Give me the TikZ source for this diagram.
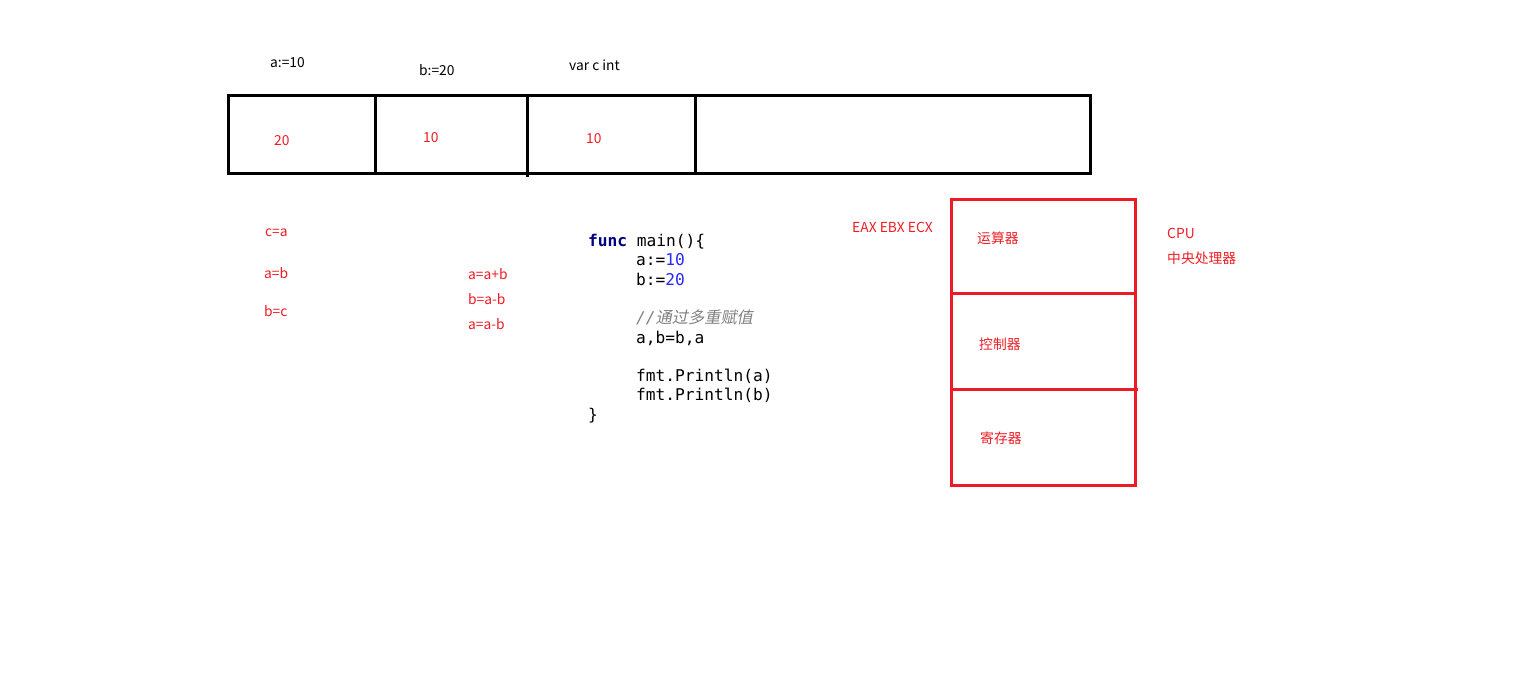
\documentclass[tikz,border=0pt]{standalone}
\usepackage{fontspec}
\setmainfont{Noto Sans CJK SC}
\setmonofont{DejaVu Sans Mono}
\newfontfamily\cjkslant[FakeSlant=0.2]{Noto Sans CJK SC}
\usetikzlibrary{positioning}
\definecolor{memred}{RGB}{237,28,36}
\definecolor{kwblue}{RGB}{0,0,128}
\definecolor{numblue}{RGB}{40,40,255}
\definecolor{cmtgray}{RGB}{128,128,128}
\begin{document}
\begin{tikzpicture}[x=1pt,y=-1pt]
			
			\tikzstyle{cell} = [rectangle, minimum height=78pt, inner sep=0pt, outer sep=0pt, draw=black, line width=3pt]
			\tikzstyle{unit} = [rectangle, minimum width=184pt, inner sep=0pt, outer sep=0pt, draw=memred, line width=3pt]
			\tikzstyle{varname} = [anchor=west, inner sep=0pt, font=\fontsize{13.8}{16}\selectfont, text=black]
			\tikzstyle{memval} = [anchor=west, inner sep=0pt, font=\fontsize{13.8}{16}\selectfont, text=memred]
			\tikzstyle{code} = [anchor=north west, inner sep=0pt, align=left, font=\fontsize{16.2}{19.3}\selectfont\ttfamily]
			
			\useasboundingbox (0,0) rectangle (1532,699);
			
			% memory cells
			\node (cellA) [cell, minimum width=147pt, anchor=north west] at (228,95) {};
			\node (cellB) [cell, minimum width=152pt, right=0pt of cellA] {};
			\node (cellC) [cell, minimum width=168pt, right=0pt of cellB] {};
			\node (cellD) [cell, minimum width=395pt, right=0pt of cellC] {};
			\draw[line width=3pt] (cellB.south east) -- ++(0,4);
			
			\node (nameA) [varname] at (270,63) {a:=10};
			\node (nameB) [varname] at (419,70) {b:=20};
			\node (nameC) [varname] at (569,65) {var c int};
			
			\node (valA) [memval] at (274,141) {20};
			\node (valB) [memval] at (423,138) {10};
			\node (valC) [memval] at (586,139) {10};
			
			% swap notes
			\node (tmp1) [memval] at (265,233) {c=a};
			\node (tmp2) [memval] at (264,273) {a=b};
			\node (tmp3) [memval] at (264,311) {b=c};
			\node (sum1) [memval] at (468,274) {a=a+b};
			\node (sum2) [memval] at (468,299) {b=a-b};
			\node (sum3) [memval] at (468,324) {a=a-b};
			
			% go code
			\node (main) [code] at (588,234) {%
				\textcolor{kwblue}{\bfseries func} main()\{\\
				\hspace*{48pt}a:=\textcolor{numblue}{10}\\
				\hspace*{48pt}b:=\textcolor{numblue}{20}\\
				\mbox{}\\
				\hspace*{48pt}\textcolor{cmtgray}{\itshape //\cjkslant 通过多重赋值}\\
				\hspace*{48pt}a,b=b,a\\
				\mbox{}\\
				\hspace*{48pt}fmt.Println(a)\\
				\hspace*{48pt}fmt.Println(b)\\
				\}};
			
			% cpu
			\node (alu) [unit, minimum height=94pt, anchor=north west] at (951,199) {};
			\node (ctrl) [unit, minimum height=96pt, below=0pt of alu] {};
			\node (reg) [unit, minimum height=96pt, below=0pt of ctrl] {};
			\draw[memred, line width=3pt] (ctrl.south east) -- ++(3,0);
			
			\node (aluName) [memval] at (977,238) {运算器};
			\node (ctrlName) [memval] at (979,344) {控制器};
			\node (regName) [memval] at (980,438) {寄存器};
			\node (regs) [memval] at (852,227) {EAX EBX ECX};
			\node (cpu) [memval] at (1167,233) {CPU};
			\node (cpuName) [memval] at (1167,258) {中央处理器};
			
		\end{tikzpicture}
\end{document}
